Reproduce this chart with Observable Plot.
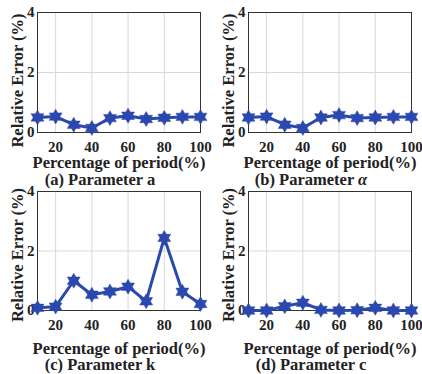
<!DOCTYPE html>
<html>
<head>
<meta charset="utf-8">
<script src="https://cdn.jsdelivr.net/npm/d3@7"></script>
<script src="https://cdn.jsdelivr.net/npm/@observablehq/plot@0.6"></script>
<style>
  html, body { margin: 0; padding: 0; background: #fff; }
  #root { position: relative; width: 422px; height: 374px; overflow: hidden; background:#fff; }
  .panel { position: absolute; width: 211px; height: 187px; }
  .cap { position: absolute; font-family: "Liberation Serif", "Times New Roman", serif; font-weight: bold; font-size: 16.5px; color: #222; white-space: nowrap; transform: translateX(-50%); line-height: 1; }
  svg { overflow: visible; }
</style>
</head>
<body>
<div id="root"></div>
<script>
const percent = [10, 20, 30, 40, 50, 60, 70, 80, 90, 100];
const errA = [0.50, 0.53, 0.26, 0.15, 0.48, 0.56, 0.45, 0.49, 0.52, 0.52];
const errAlpha = [0.50, 0.53, 0.26, 0.15, 0.50, 0.58, 0.48, 0.50, 0.52, 0.52];
const errK = [0.09, 0.13, 1.00, 0.53, 0.64, 0.80, 0.31, 2.44, 0.63, 0.22];
const errC = [0.00, 0.00, 0.14, 0.26, 0.02, 0.00, 0.01, 0.09, 0.00, 0.00];
const xTicks = [20, 40, 60, 80, 100];
const yTicks = [0, 2, 4];
const captions = ["(a) Parameter a", "(b) Parameter <i>α</i>", "(c) Parameter k", "(d) Parameter c"];
const xLabel = "Percentage of period(%)";
const yLabel = "Relative Error (%)";

const blue = "#2a48ae";
const font = '"Liberation Serif", "Times New Roman", serif';

const hexagram = {
  draw(context, size) {
    const R = Math.sqrt(size / Math.PI) * 1.35;
    const ri = R / Math.sqrt(3);
    for (let i = 0; i < 12; i++) {
      const a = Math.PI / 6 * i - Math.PI / 2;
      const rr = i % 2 === 0 ? R : ri;
      const x = rr * Math.cos(a), y = rr * Math.sin(a);
      if (i === 0) context.moveTo(x, y); else context.lineTo(x, y);
    }
    context.closePath();
  }
};

const panels = [
  {vals: errA, left: 0, top: 0, mt: 12, mb: 55, xlDy: 24, ylDy: 8, capTop: 172},
  {vals: errAlpha, left: 211, top: 0, mt: 12, mb: 55, xlDy: 24, ylDy: 8, capTop: 172},
  {vals: errK, left: 0, top: 187, mt: 4, mb: 64, xlDy: 32, ylDy: 4, capTop: 357},
  {vals: errC, left: 211, top: 187, mt: 4, mb: 64, xlDy: 32, ylDy: 4, capTop: 357}
];

const root = document.getElementById("root");
panels.forEach((p, idx) => {
  const data = percent.map((x, i) => ({x, y: p.vals[i]}));
  const chart = Plot.plot({
    width: 211,
    height: 187,
    marginLeft: 37,
    marginRight: 11,
    marginTop: p.mt,
    marginBottom: p.mb,
    style: {fontFamily: font, fontWeight: "bold", fontSize: "15px", color: "#222", background: "transparent"},
    x: {domain: [10, 100]},
    y: {domain: [0, 4]},
    marks: [
      Plot.gridX([20, 40, 60, 80], {stroke: "#d8d8d8", strokeOpacity: 1}),
      Plot.gridY([2], {stroke: "#d8d8d8", strokeOpacity: 1}),
      Plot.frame({stroke: "#333", strokeWidth: 1}),
      Plot.axisX(xTicks, {tickSize: 0, tickPadding: 9, label: null, fontSize: 15, fontWeight: "bold"}),
      Plot.axisY(yTicks, {tickSize: 0, tickPadding: 3, label: null, fontSize: 15, fontWeight: "bold"}),
      Plot.text([xLabel], {frameAnchor: "bottom", text: d => d, dy: p.xlDy, lineAnchor: "top", textAnchor: "middle", fontSize: 16.5, fontWeight: "bold", fill: "#222"}),
      Plot.text([yLabel], {frameAnchor: "left", text: d => d, rotate: -90, dx: -15, dy: p.ylDy, lineAnchor: "bottom", textAnchor: "middle", fontSize: 16.5, fontWeight: "bold", fill: "#222"}),
      Plot.line(data, {x: "x", y: "y", stroke: blue, strokeWidth: 3}),
      Plot.dot(data, {x: "x", y: "y", symbol: hexagram, r: 5.5, fill: blue, stroke: blue, strokeWidth: 0.5})
    ]
  });
  const div = document.createElement("div");
  div.className = "panel";
  div.style.left = p.left + "px";
  div.style.top = p.top + "px";
  div.appendChild(chart);
  root.appendChild(div);
  const cap = document.createElement("div");
  cap.className = "cap";
  cap.style.left = (p.left + 100) + "px";
  cap.style.top = p.capTop + "px";
  cap.innerHTML = captions[idx];
  root.appendChild(cap);
});
</script>
</body>
</html>
